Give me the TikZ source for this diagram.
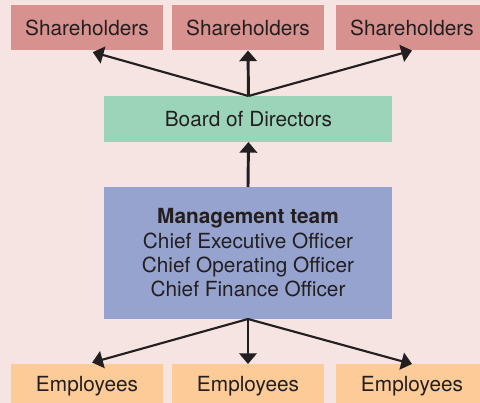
\documentclass[tikz,border=0pt]{standalone}
\usepackage{fontspec}
\setmainfont{TeX Gyre Heros}
\usetikzlibrary{arrows.meta}
\definecolor{rosa}{HTML}{F5E4E2}
\definecolor{altrosa}{HTML}{D7918E}
\definecolor{mintgruen}{HTML}{9CD4BA}
\definecolor{lavendel}{HTML}{96A3CE}
\definecolor{apricot}{HTML}{FCCB97}
\definecolor{tinte}{HTML}{231F20}
\tikzset{
  box/.style={rectangle, inner sep=0pt, outer sep=0pt, text=tinte,
    font=\fontsize{15.6}{18.3}\selectfont, align=center},
  holder/.style={box, fill=altrosa, minimum width=114pt, minimum height=33.75pt},
  staff/.style={box, fill=apricot, minimum width=114pt, minimum height=33.75pt},
  link/.style={draw=tinte, line width=1.6pt, -{Triangle[length=8pt, width=13pt]}}
}

\begin{document}
\begin{tikzpicture}[x=0.75pt, y=-0.75pt]
\useasboundingbox (0,0) rectangle (480,403);
\clip (0,0) rectangle (480,403);
\fill[rosa] (0,0) rectangle (480,403);
% shareholders
\node[holder] (sh1) at (87,28) {Shareholders};
\node[holder] (sh2) at (248,28) {Shareholders};
\node[holder] (sh3) at (412,28) {Shareholders};
% board
\node[box, fill=mintgruen, minimum width=216pt, minimum height=34.5pt] (board) at (248.5,119) {Board of Directors};
% management
\node[box, fill=lavendel, minimum width=216pt, minimum height=99pt] (mgmt) at (248,253)
  {\textbf{Management team}\\Chief Executive Officer\\Chief Operating Officer\\Chief Finance Officer};
% employees
\node[staff] (emp1) at (87,386.5) {Employees};
\node[staff] (emp2) at (248,386.5) {Employees};
\node[staff] (emp3) at (412,386.5) {Employees};
% arrows
\draw[link, shorten >=4.5pt] (board.north) -- (sh1.south);
\draw[link, line width=2.2pt] (board.north) -- (sh2.south);
\draw[link] (board.north) -- (sh3.south);
\draw[link, line width=2.2pt] (mgmt.north) -- (board.south);
\draw[link, shorten >=4pt] (mgmt.south) -- (emp1.north);
\draw[link, line width=2.2pt] (mgmt.south) -- (emp2.north);
\draw[link] (mgmt.south) -- (emp3.north);
\end{tikzpicture}
\end{document}
